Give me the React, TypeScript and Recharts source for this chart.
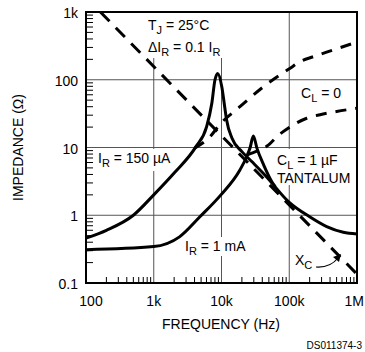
import React from 'react';
import { LineChart, Line, XAxis, YAxis, ReferenceLine } from 'recharts';

// axis decades and their labels
const xDecades = [100, 1000, 10000, 100000, 1000000];
const xLabels = ['100', '1k', '10k', '100k', '1M'];
const yDecades = [0.1, 1, 10, 100, 1000];
const yLabels = ['0.1', '1', '10', '100', '1k'];
const minorSteps = [2, 3, 4, 5, 6, 7, 8, 9];

// C_L = 1 uF tantalum, I_R = 150 uA
const ir150Freq = [100, 200, 500, 1000, 2000, 4200, 6000, 7200, 8000, 8800, 10100, 11300, 11900, 14300, 20000, 28000, 44000, 98000, 200000, 357000, 628000, 1000000];
const ir150Z = [0.46, 0.6, 1.0, 2.0, 4.2, 10.3, 20, 45, 99, 124, 79, 36, 25.5, 13.7, 8.7, 6.2, 3.9, 1.58, 0.95, 0.68, 0.56, 0.53];

// C_L = 1 uF tantalum, I_R = 1 mA
const ir1mFreq = [100, 1000, 2400, 4800, 9800, 18700, 23500, 26500, 29500, 33400, 42000, 55600, 62000];
const ir1mZ = [0.31, 0.345, 0.48, 0.95, 2.0, 4.66, 7.3, 10, 14.8, 9.7, 5.5, 3.1, 2.64];

// C_L = 0, I_R = 150 uA
const cl0HighFreq = [4000, 6800, 9500, 18700, 39000, 103000, 145000, 227000, 443000, 1000000];
const cl0HighZ = [9.8, 14.5, 22, 40, 75, 148, 185, 219, 275, 360];

// C_L = 0, I_R = 1 mA
const cl0LowFreq = [24000, 40000, 47000, 70000, 87000, 114000, 181000, 285000, 500000, 1000000];
const cl0LowZ = [7.8, 9.6, 10.5, 15.3, 18, 21.5, 27, 30.5, 34, 38];

// reactance of the 1 uF capacitor
const xcFreq = [163, 1000000];
const xcZ = [1000, 0.135];

const pair = (f: number[], z: number[]) => f.map((v, i) => ({ f: v, z: z[i] }));
const ir150 = pair(ir150Freq, ir150Z);
const ir1m = pair(ir1mFreq, ir1mZ);
const cl0High = pair(cl0HighFreq, cl0HighZ);
const cl0Low = pair(cl0LowFreq, cl0LowZ);
const xc = pair(xcFreq, xcZ);

const minorOf = (decades: number[]) =>
  decades.slice(0, -1).flatMap((d) => minorSteps.map((k) => d * k));
const xMinor = minorOf(xDecades);
const yMinor = minorOf(yDecades);

// plot box (matches chart margins / axis sizes below)
const PLOT = { left: 86, right: 357, top: 12, bottom: 283 };
const px = (f: number) => PLOT.left + ((Math.log10(f) - 2) / 4) * (PLOT.right - PLOT.left);
const py = (z: number) => PLOT.top + ((3 - Math.log10(z)) / 4) * (PLOT.bottom - PLOT.top);

const font = '"Liberation Sans", Arial, sans-serif';
const findDecade = (list: number[], v: number) =>
  list.findIndex((d) => Math.abs(Math.log10(d) - Math.log10(v)) < 1e-6);

const XTick = (props: any) => {
  const { x, y, payload } = props;
  const i = findDecade(xDecades, payload.value);
  if (i < 0) return <g />;
  const last = i === xDecades.length - 1;
  return (
    <g>
      <text x={x + (i === 0 ? 5 : last ? 7 : 0)} y={y + 18} textAnchor={last ? 'end' : 'middle'}
        dominantBaseline="central" fontFamily={font} fontSize={14} fill="#000">
        {xLabels[i]}
      </text>
    </g>
  );
};

const YTick = (props: any) => {
  const { x, y, payload } = props;
  const i = findDecade(yDecades, payload.value);
  if (i < 0) return <g />;
  return (
    <g>
      <text x={x - 8} y={y + 1} textAnchor="end" dominantBaseline="central"
        fontFamily={font} fontSize={14} fill="#000">
        {yLabels[i]}
      </text>
    </g>
  );
};

const Sub = ({ children }: { children: string }) => (
  <tspan dy={4} fontSize={11}>{children}</tspan>
);

function Notes() {
  return (
    <svg width={365} height={352} style={{ position: 'absolute', left: 0, top: 0, pointerEvents: 'none' }}
      fontFamily={font} fontSize={14} fill="#000">
      {/* minor ticks, inward */}
      {xMinor.map((v) => (
        <line key={'mx' + v} x1={px(v)} x2={px(v)} y1={PLOT.bottom} y2={PLOT.bottom - 6} stroke="#000" strokeWidth={1} />
      ))}
      {yMinor.map((v) => (
        <line key={'my' + v} x1={PLOT.left} x2={PLOT.left + 7} y1={py(v)} y2={py(v)} stroke="#000" strokeWidth={1} />
      ))}

      {/* white backing that breaks the grid behind labels */}
      <rect x={150} y={13} width={74} height={45} fill="#fff" />
      <rect x={95} y={149} width={77} height={22} fill="#fff" />
      <rect x={276} y={149} width={76} height={36} fill="#fff" />
      <rect x={183} y={237} width={67} height={19} fill="#fff" />

      <text x={148} y={30}>T<Sub>J</Sub><tspan dy={-4}> = 25°C</tspan></text>
      <text x={148} y={52}>ΔI<Sub>R</Sub><tspan dy={-4}> = 0.1 I</tspan><Sub>R</Sub></text>
      <text x={301} y={98}>C<Sub>L</Sub><tspan dy={-4}> = 0</tspan></text>
      <text x={277} y={165}>C<Sub>L</Sub><tspan dy={-4}> = 1 µF</tspan></text>
      <text x={277} y={183}>TANTALUM</text>
      <text x={98} y={163}>I<Sub>R</Sub><tspan dy={-4}> = 150 µA</tspan></text>
      <text x={185} y={251}>I<Sub>R</Sub><tspan dy={-4}> = 1 mA</tspan></text>
      <text x={295} y={265}>X<Sub>C</Sub></text>
      <path d="M316,267 Q330,268 338,258" fill="none" stroke="#000" strokeWidth={1.2} />
      <path d="M341,254 L333,257 L339,262 Z" fill="#000" />

      <text x={18} y={147.5} textAnchor="middle" dominantBaseline="central"
        transform="rotate(-90 18 147.5)">IMPEDANCE (Ω)</text>
      <text x={221} y={324} textAnchor="middle" dominantBaseline="central">FREQUENCY (Hz)</text>
      <text x={362} y={349} fontSize={10} textAnchor="end">DS011374-3</text>
    </svg>
  );
}

export default function App() {
  const lineProps = {
    dataKey: 'z',
    stroke: '#000',
    strokeWidth: 3,
    dot: false,
    activeDot: false,
    isAnimationActive: false,
  } as const;
  return (
    <div style={{ position: 'absolute', left: 0, top: 0, width: 365, height: 352, background: '#fff' }}>
      <LineChart width={365} height={352}
        margin={{ top: PLOT.top, right: 365 - PLOT.right, bottom: 0, left: 0 }}>
        <XAxis dataKey="f" type="number" scale="log" domain={[100, 1000000]} allowDataOverflow
          ticks={xDecades} interval={0} tick={<XTick />} tickLine={false} axisLine={false}
          tickSize={0} tickMargin={0} height={352 - PLOT.bottom} />
        <YAxis type="number" scale="log" domain={[0.1, 1000]} allowDataOverflow
          ticks={yDecades} interval={0} tick={<YTick />} tickLine={false} axisLine={false}
          tickSize={0} tickMargin={0} width={PLOT.left} />
        {xDecades.slice(1, -1).map((v) => (
          <ReferenceLine key={'x' + v} x={v} stroke="#555" strokeWidth={1} />
        ))}
        {yDecades.slice(1, -1).map((v) => (
          <ReferenceLine key={'y' + v} y={v} stroke="#555" strokeWidth={1} />
        ))}
        {/* plot frame */}
        {[100, 1000000].map((v) => (
          <ReferenceLine key={'fx' + v} x={v} ifOverflow="visible" stroke="#000" strokeWidth={2} strokeLinecap="square" />
        ))}
        {[0.1, 1000].map((v) => (
          <ReferenceLine key={'fy' + v} y={v} ifOverflow="visible" stroke="#000" strokeWidth={2} strokeLinecap="square" />
        ))}
        <Line {...lineProps} data={xc} type="linear" strokeDasharray="13 9" />
        <Line {...lineProps} data={cl0High} type="monotone" strokeDasharray="11 9" />
        <Line {...lineProps} data={cl0Low} type="monotone" strokeDasharray="11 9" />
        <Line {...lineProps} data={ir150} type="monotone" />
        <Line {...lineProps} data={ir1m} type="monotone" />
      </LineChart>
      <Notes />
    </div>
  );
}
